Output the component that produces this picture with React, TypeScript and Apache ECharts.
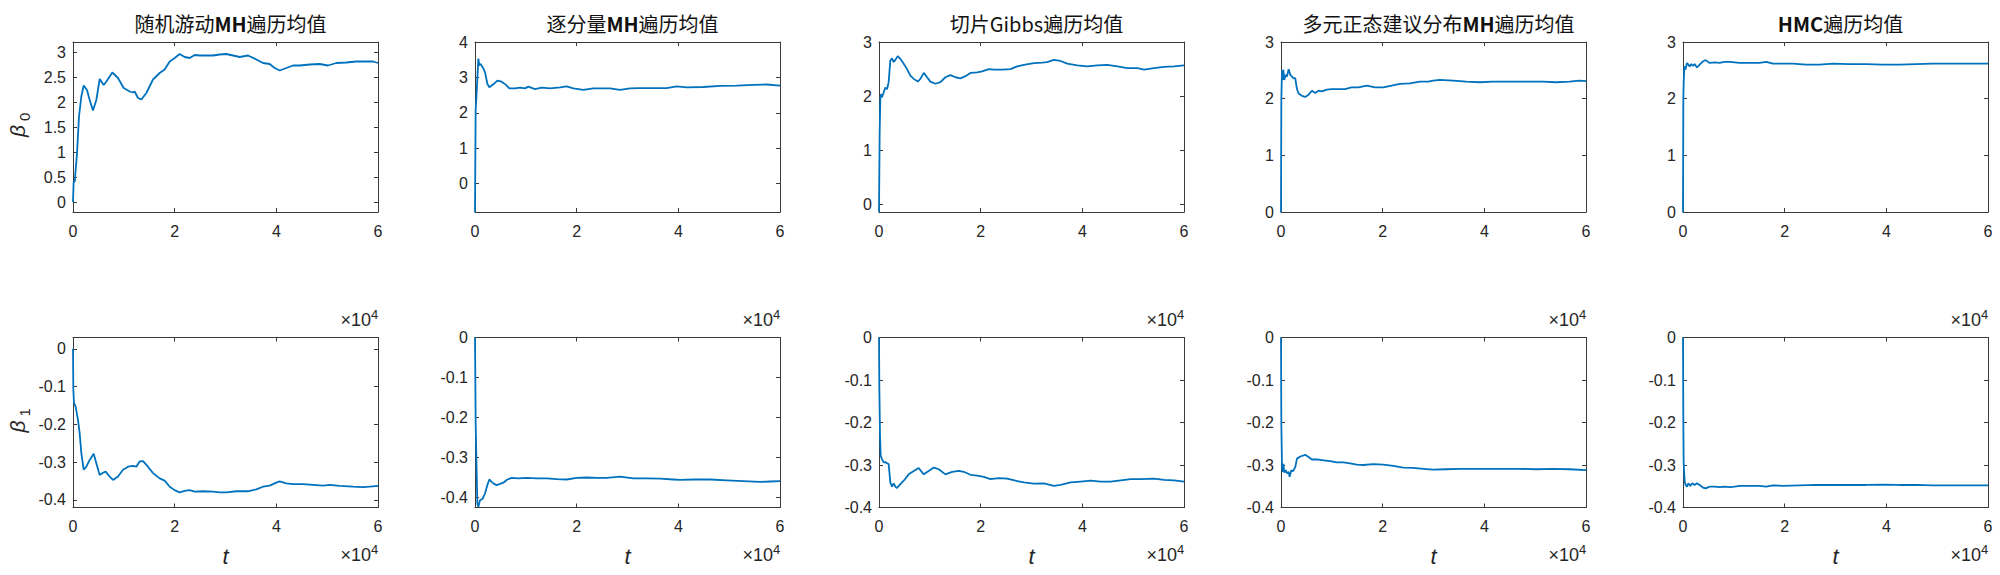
import React, { useEffect, useRef } from "react";
import * as echarts from "echarts";

type Pt = [number, number];

// ---- titles (rich markup: n = normal, b = bold latin) ----
const panelTitles = [
  "{n|随机游动}{b|MH}{n|遍历均值}",
  "{n|逐分量}{b|MH}{n|遍历均值}",
  "{n|切片Gibbs遍历均值}",
  "{n|多元正态建议分布}{b|MH}{n|遍历均值}",
  "{b|HMC}{n|遍历均值}",
];
const betaSymbol = "β";
const betaSubs = ["0", "1"];

// ---- axis ranges / ticks ----
const xTicks = [0, 20000, 40000, 60000];
const xMax = 60000;
const b0Min = [-0.2, -0.8, -0.135, 0, 0];
const b0Max = [3.2, 4, 3, 3, 3];
const b0Ticks = [
  [0, 0.5, 1, 1.5, 2, 2.5, 3],
  [0, 1, 2, 3, 4],
  [0, 1, 2, 3],
  [0, 1, 2, 3],
  [0, 1, 2, 3],
];
const b1Min = [-0.42, -0.425, -0.4, -0.4, -0.4];
const b1Max = [0.03, 0, 0, 0, 0];
const b1TickVals = [-0.4, -0.3, -0.2, -0.1, 0];

// ---- series: [t, ergodic mean] ----
const rwB0: Pt[] = [[0,0],[130,0.41],[330,0.4],[790,0.97],[1180,1.71],[1640,2.11],[2100,2.33],[2750,2.24],[3280,2.04],[3930,1.83],[4590,2.04],[5250,2.46],[6030,2.34],[6560,2.41],[7740,2.59],[8850,2.48],[9970,2.28],[11150,2.21],[11800,2.19],[12130,2.21],[12790,2.08],[13440,2.05],[14430,2.18],[15740,2.45],[17050,2.58],[18030,2.65],[19020,2.81],[20000,2.88],[20980,2.96],[21970,2.9],[22950,2.88],[23930,2.94],[24920,2.93],[26230,2.93],[27540,2.93],[28850,2.95],[30160,2.96],[31480,2.93],[32790,2.9],[34430,2.93],[36070,2.85],[37380,2.78],[38690,2.76],[39670,2.68],[40660,2.63],[41970,2.68],[43280,2.73],[44590,2.73],[46560,2.75],[48520,2.76],[50160,2.73],[51800,2.78],[53770,2.79],[55740,2.81],[57700,2.81],[59020,2.81],[60000,2.78]];
const rwB1: Pt[] = [[0,0],[66,-0.109],[200,-0.144],[520,-0.153],[980,-0.188],[1310,-0.223],[1640,-0.276],[2100,-0.32],[2620,-0.312],[3280,-0.294],[4070,-0.278],[4590,-0.303],[5250,-0.334],[5900,-0.328],[6430,-0.325],[7210,-0.338],[7870,-0.347],[8850,-0.338],[9840,-0.32],[10820,-0.312],[11800,-0.31],[12460,-0.312],[13110,-0.298],[13770,-0.297],[14750,-0.312],[15740,-0.329],[17050,-0.343],[18030,-0.349],[19020,-0.365],[20000,-0.374],[20980,-0.38],[21970,-0.376],[22950,-0.374],[23930,-0.378],[25570,-0.377],[27540,-0.378],[28850,-0.38],[30160,-0.38],[32130,-0.377],[34430,-0.377],[36070,-0.372],[37380,-0.365],[38690,-0.362],[40000,-0.354],[40660,-0.351],[41970,-0.356],[43280,-0.358],[45250,-0.358],[47210,-0.36],[49180,-0.362],[50490,-0.36],[52460,-0.363],[55080,-0.365],[57050,-0.366],[58360,-0.365],[60000,-0.363]];
const cwB0: Pt[] = [[0,-0.8],[130,2.1],[330,2.58],[660,3.53],[850,3.34],[1110,3.38],[1510,3.29],[1970,3.15],[2430,2.82],[2820,2.72],[3280,2.77],[3740,2.82],[4390,2.91],[5250,2.88],[6100,2.79],[6750,2.69],[7870,2.69],[8850,2.71],[9840,2.69],[10490,2.74],[11800,2.67],[13110,2.71],[14750,2.69],[16720,2.72],[18030,2.75],[19340,2.69],[21310,2.65],[23280,2.69],[24920,2.69],[26560,2.69],[28520,2.65],[30490,2.69],[32460,2.7],[35080,2.7],[37700,2.7],[39670,2.75],[41640,2.72],[44920,2.73],[48200,2.76],[51480,2.77],[54750,2.79],[57380,2.8],[60000,2.77]];
const cwB1: Pt[] = [[0,0],[130,-0.214],[260,-0.298],[460,-0.415],[660,-0.423],[980,-0.407],[1510,-0.403],[1970,-0.39],[2430,-0.369],[2820,-0.355],[3280,-0.361],[3740,-0.366],[4260,-0.369],[4920,-0.366],[5570,-0.363],[6360,-0.355],[7210,-0.351],[8520,-0.352],[10160,-0.351],[12130,-0.352],[14100,-0.352],[16070,-0.354],[18030,-0.355],[20000,-0.351],[21970,-0.35],[23930,-0.351],[25900,-0.351],[28520,-0.348],[31150,-0.352],[33770,-0.352],[36390,-0.353],[39020,-0.355],[40330,-0.356],[42950,-0.355],[46230,-0.355],[49510,-0.357],[52790,-0.359],[56070,-0.361],[58030,-0.36],[60000,-0.359]];
const gibbsB0: Pt[] = [[0,-0.13],[130,1.33],[260,1.95],[390,2.04],[590,1.98],[920,2.07],[1250,2.16],[1580,2.13],[1900,2.26],[2230,2.66],[2560,2.7],[2890,2.63],[3220,2.67],[3680,2.74],[4200,2.69],[4860,2.6],[5520,2.5],[6170,2.38],[6830,2.32],[7620,2.27],[8140,2.32],[8800,2.43],[9460,2.35],[10110,2.27],[11100,2.23],[12080,2.26],[13070,2.35],[14050,2.39],[15040,2.35],[16020,2.33],[17010,2.37],[17990,2.43],[19300,2.44],[20290,2.46],[21600,2.5],[22590,2.49],[24230,2.49],[25870,2.5],[27180,2.55],[28500,2.58],[30470,2.61],[32110,2.62],[33090,2.63],[34410,2.67],[35720,2.65],[37030,2.6],[39000,2.57],[40970,2.55],[42940,2.57],[44910,2.58],[46880,2.55],[48850,2.52],[50820,2.52],[52130,2.49],[54100,2.52],[56070,2.54],[58040,2.55],[60000,2.57]];
const gibbsB1: Pt[] = [[0,0],[70,-0.122],[200,-0.231],[330,-0.278],[590,-0.286],[920,-0.294],[1250,-0.293],[1580,-0.296],[1900,-0.298],[2230,-0.341],[2560,-0.351],[2890,-0.343],[3220,-0.351],[3550,-0.354],[4200,-0.345],[4860,-0.337],[5840,-0.322],[6830,-0.314],[7810,-0.307],[8800,-0.322],[9780,-0.314],[10770,-0.306],[11750,-0.31],[13070,-0.322],[14380,-0.316],[15690,-0.314],[16680,-0.316],[17990,-0.323],[19300,-0.325],[20620,-0.328],[21930,-0.333],[23570,-0.331],[25210,-0.332],[26860,-0.337],[28500,-0.341],[30470,-0.344],[32440,-0.343],[34410,-0.349],[35720,-0.347],[37690,-0.341],[39660,-0.339],[41630,-0.337],[43600,-0.339],[45570,-0.339],[47540,-0.336],[49510,-0.333],[51480,-0.333],[54100,-0.332],[56070,-0.335],[58040,-0.336],[60000,-0.339]];
const mvnB0: Pt[] = [[0,0],[65,1.98],[200,2.51],[330,2.33],[460,2.51],[650,2.33],[920,2.42],[1180,2.39],[1500,2.52],[1830,2.42],[2160,2.39],[2480,2.36],[2810,2.36],[3140,2.17],[3460,2.09],[4120,2.05],[4770,2.03],[5420,2.07],[6080,2.14],[6730,2.1],[7390,2.14],[8040,2.13],[9020,2.16],[10000,2.17],[11310,2.17],[12620,2.17],[13860,2.2],[15230,2.2],[16860,2.23],[18500,2.2],[20130,2.2],[21760,2.23],[23400,2.26],[25360,2.27],[27320,2.3],[28950,2.3],[29930,2.32],[31240,2.33],[33860,2.32],[36470,2.3],[39090,2.29],[41700,2.3],[44970,2.3],[48240,2.3],[51500,2.3],[54120,2.29],[56730,2.3],[58690,2.32],[60000,2.31]];
const mvnB1: Pt[] = [[0,0],[65,-0.202],[200,-0.305],[330,-0.316],[460,-0.297],[650,-0.318],[920,-0.312],[1180,-0.32],[1500,-0.316],[1700,-0.328],[2030,-0.312],[2350,-0.315],[2810,-0.305],[3140,-0.285],[3790,-0.28],[4770,-0.276],[5420,-0.281],[6080,-0.287],[7060,-0.287],[8370,-0.289],[9670,-0.291],[10980,-0.294],[12290,-0.294],[13590,-0.296],[14900,-0.299],[16210,-0.3],[18170,-0.298],[20130,-0.299],[22090,-0.302],[24050,-0.306],[26010,-0.307],[27970,-0.309],[29930,-0.311],[32550,-0.31],[35160,-0.309],[37780,-0.309],[40390,-0.309],[43660,-0.309],[46930,-0.309],[50200,-0.31],[53460,-0.309],[56730,-0.31],[60000,-0.312]];
const hmcB0: Pt[] = [[0,0],[65,1.98],[130,2.27],[260,2.57],[460,2.51],[790,2.63],[1050,2.6],[1310,2.57],[1640,2.61],[1960,2.58],[2290,2.61],[2750,2.55],[3270,2.6],[3930,2.66],[4450,2.68],[5240,2.63],[6220,2.64],[7200,2.63],[8190,2.65],[9170,2.65],[10150,2.64],[11130,2.63],[12440,2.63],[13750,2.63],[15060,2.63],[16370,2.65],[17680,2.62],[19650,2.62],[21610,2.62],[24230,2.6],[26850,2.6],[29470,2.62],[32740,2.61],[36020,2.61],[39290,2.6],[42570,2.6],[45840,2.61],[49120,2.62],[52390,2.62],[55670,2.62],[60000,2.62]];
const hmcB1: Pt[] = [[0,0],[65,-0.202],[130,-0.296],[330,-0.339],[520,-0.347],[790,-0.351],[1050,-0.343],[1440,-0.349],[1830,-0.343],[2290,-0.347],[2750,-0.343],[3270,-0.347],[3930,-0.353],[4450,-0.355],[5240,-0.351],[6220,-0.351],[7200,-0.352],[8190,-0.351],[9170,-0.352],[10150,-0.351],[11130,-0.349],[13100,-0.349],[15060,-0.349],[16370,-0.351],[17680,-0.348],[19650,-0.349],[22920,-0.348],[26200,-0.347],[29470,-0.347],[32740,-0.347],[36020,-0.347],[39290,-0.346],[42570,-0.347],[45840,-0.347],[49120,-0.348],[52390,-0.348],[55670,-0.348],[60000,-0.348]];

const beta0Series = [rwB0, cwB0, gibbsB0, mvnB0, hmcB0];
const beta1Series = [rwB1, cwB1, gibbsB1, mvnB1, hmcB1];

// ---- layout ----
const gridLefts = [73, 475, 879, 1281, 1683];
const gridWidth = 305;
const rowTops = [42, 337.5];
const gridHeight = 170;

const AX = "#262626";
const BOX = "#3a3a3a";
const LINE = "#0072BD";
const NUM_FONT = "'Liberation Sans', Arial, sans-serif";
const CJK_FONT = "'Noto Sans CJK SC', sans-serif";

function fmtNum(v: number) {
  const r = Math.round(v * 1000) / 1000;
  return String(r);
}

function buildOption() {
  const grid: any[] = [];
  const xAxis: any[] = [];
  const yAxis: any[] = [];
  const series: any[] = [];
  const title: any[] = [];
  const graphic: any[] = [];

  for (let r = 0; r < 2; r++) {
    for (let c = 0; c < 5; c++) {
      const g = r * 5 + c;
      grid.push({
        left: gridLefts[c],
        top: rowTops[r],
        width: gridWidth,
        height: gridHeight,
        containLabel: false,
        show: false,
      });
      const yMin = r === 0 ? b0Min[c] : b1Min[c];
      const yMaxV = r === 0 ? b0Max[c] : b1Max[c];
      const yT = r === 0 ? b0Ticks[c] : b1TickVals;

      const xBase = {
        type: "value",
        gridIndex: g,
        min: 0,
        max: xMax,
        splitLine: { show: false },
        axisLine: { show: true, onZero: false, lineStyle: { color: BOX, width: 1 } },
        axisTick: { show: true, inside: true, length: 4, customValues: xTicks, lineStyle: { color: BOX, width: 1 } },
      };
      xAxis.push({
        ...xBase,
        position: "bottom",
        axisLabel: {
          show: true,
          customValues: xTicks,
          margin: 11,
          color: AX,
          fontSize: 16,
          fontFamily: NUM_FONT,
          formatter: (v: number) => fmtNum(v / 10000),
        },
      });
      xAxis.push({ ...xBase, position: "top", axisLabel: { show: false } });

      const yBase = {
        type: "value",
        gridIndex: g,
        min: yMin,
        max: yMaxV,
        splitLine: { show: false },
        axisLine: { show: true, onZero: false, lineStyle: { color: BOX, width: 1 } },
        axisTick: { show: true, inside: true, length: 4, customValues: yT, lineStyle: { color: BOX, width: 1 } },
      };
      yAxis.push({
        ...yBase,
        position: "left",
        axisLabel: {
          show: true,
          customValues: yT,
          margin: 7,
          color: AX,
          fontSize: 16,
          fontFamily: NUM_FONT,
          formatter: (v: number) => fmtNum(v),
        },
      });
      yAxis.push({ ...yBase, position: "right", axisLabel: { show: false } });

      series.push({
        type: "line",
        xAxisIndex: 2 * g,
        yAxisIndex: 2 * g,
        data: r === 0 ? beta0Series[c] : beta1Series[c],
        showSymbol: false,
        symbol: "none",
        clip: true,
        lineStyle: { color: LINE, width: 1.8 },
        z: 1,
      });

      const cx = gridLefts[c] + gridWidth / 2;
      const right = gridLefts[c] + gridWidth;
      if (r === 0) {
        title.push({
          text: panelTitles[c],
          left: cx,
          top: 8,
          textAlign: "center",
          textStyle: {
            rich: {
              n: { fontSize: 20, fontFamily: CJK_FONT, color: "#111", fontWeight: "normal" },
              b: { fontSize: 20, fontFamily: CJK_FONT, color: "#111", fontWeight: "bold" },
            },
          },
        });
      } else {
        graphic.push({
          type: "text",
          x: cx,
          y: 556,
          style: {
            text: "t",
            fill: AX,
            font: `italic 22px ${NUM_FONT}`,
            align: "center",
            verticalAlign: "middle",
          },
        });
      }
      // x10^4 exponent label under each axes
      graphic.push({
        type: "group",
        x: right + 3,
        y: r === 0 ? 320 : 555,
        children: [
          {
            type: "text",
            x: -10,
            y: 0,
            style: { text: "×10", fill: AX, font: `18px ${NUM_FONT}`, align: "right", verticalAlign: "middle" },
          },
          {
            type: "text",
            x: -10,
            y: -6,
            style: { text: "4", fill: AX, font: `13px ${NUM_FONT}`, align: "left", verticalAlign: "middle" },
          },
        ],
      });
    }
  }

  // beta labels on the first column (rotated group: symbol + subscript)
  for (let r = 0; r < 2; r++) {
    graphic.push({
      type: "group",
      x: 17,
      y: rowTops[r] + gridHeight / 2,
      rotation: Math.PI / 2,
      children: [
        {
          type: "text",
          x: -4,
          y: 0,
          style: { text: betaSymbol, fill: AX, font: `italic 21px ${NUM_FONT}`, align: "center", verticalAlign: "middle" },
        },
        {
          type: "text",
          x: 6,
          y: 7,
          style: { text: betaSubs[r], fill: AX, font: `15px ${NUM_FONT}`, align: "left", verticalAlign: "middle" },
        },
      ],
    });
  }

  return {
    animation: false,
    backgroundColor: "#ffffff",
    title,
    grid,
    xAxis,
    yAxis,
    series,
    graphic,
  };
}

export default function App() {
  const ref = useRef<HTMLDivElement>(null);
  useEffect(() => {
    if (!ref.current) return;
    const chart = echarts.init(ref.current, undefined, { renderer: "svg" });
    chart.setOption(buildOption() as any);
    return () => chart.dispose();
  }, []);
  return (
    <div
      ref={ref}
      style={{ position: "fixed", left: 0, top: 0, width: 2000, height: 575, background: "#fff" }}
    />
  );
}
